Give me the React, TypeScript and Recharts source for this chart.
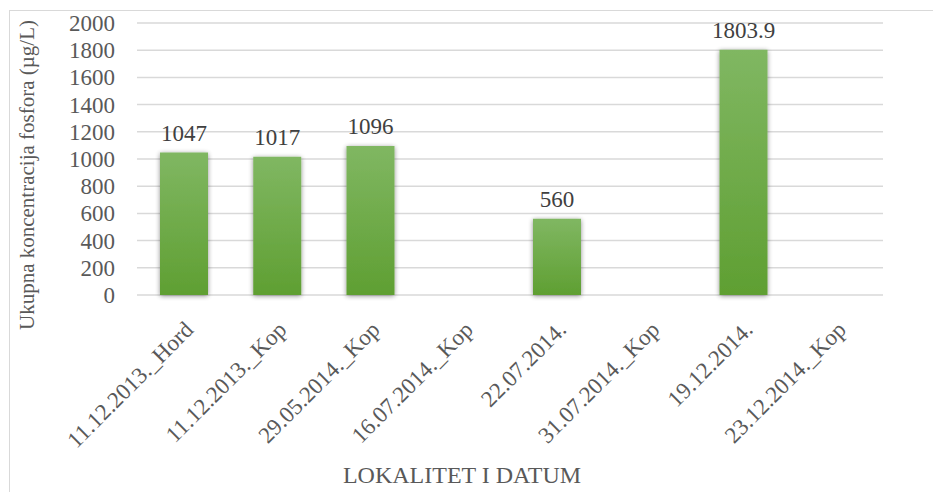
import { BarChart, Bar, XAxis, YAxis, CartesianGrid, LabelList } from 'recharts';

// Ukupna koncentracija fosfora po lokalitetu i datumu
const categories = [
  '11.12.2013._Hord',
  '11.12.2013._Kop',
  '29.05.2014._Kop',
  '16.07.2014._Kop',
  '22.07.2014.',
  '31.07.2014._Kop',
  '19.12.2014.',
  '23.12.2014._Kop',
];
const phosphorus = [1047, 1017, 1096, null, 560, null, 1803.9, null];
const yTicks = [0, 200, 400, 600, 800, 1000, 1200, 1400, 1600, 1800, 2000];

const data = categories.map((name, i) => ({ name, value: phosphorus[i] }));

const FONT = '"Liberation Serif", "Times New Roman", serif';

function AngledTick(props: any) {
  const { x, y, payload } = props;
  const ax = x + 11;
  const ay = y + 36;
  return (
    <text
      x={ax}
      y={ay}
      transform={`rotate(-45 ${ax} ${ay})`}
      textAnchor="end"
      fill="#595959"
      fontSize={23}
      style={{ fontFamily: FONT }}
    >
      {payload.value}
    </text>
  );
}

function ValueTick(props: any) {
  const { x, y, payload } = props;
  return (
    <text
      x={x}
      y={y}
      dy={8}
      textAnchor="end"
      fill="#595959"
      fontSize={23}
      style={{ fontFamily: FONT }}
    >
      {payload.value}
    </text>
  );
}

function BarValue(props: any) {
  const { x, y, width, value } = props;
  if (value == null) return null;
  return (
    <text
      x={x + width / 2}
      y={y - 12}
      textAnchor="middle"
      fill="#404040"
      fontSize={23}
      style={{ fontFamily: FONT }}
    >
      {value}
    </text>
  );
}

export default function App() {
  return (
    <div
      style={{
        position: 'absolute',
        left: 0,
        top: 0,
        width: 933,
        height: 492,
        overflow: 'hidden',
        background: '#fff',
        fontFamily: FONT,
      }}
    >
      <div
        style={{
          position: 'absolute',
          left: 9,
          top: 10,
          width: 1000,
          height: 600,
          border: '1px solid #d9d9d9',
        }}
      />
      <div style={{ position: 'absolute', left: 0, top: 0 }}>
        <BarChart
          width={933}
          height={492}
          data={data}
          margin={{ top: 23, right: 50, left: 0, bottom: 0 }}
        >
          <defs>
            <linearGradient id="barFill" x1="0" y1="0" x2="0" y2="1">
              <stop offset="0%" stopColor="#80b762" />
              <stop offset="100%" stopColor="#5f9f32" />
            </linearGradient>
            <filter id="barShadow" x="-30%" y="-10%" width="160%" height="120%">
              <feGaussianBlur in="SourceAlpha" stdDeviation="2.5" />
              <feOffset dx="0" dy="1" result="blur" />
              <feComponentTransfer>
                <feFuncA type="linear" slope="0.45" />
              </feComponentTransfer>
              <feMerge>
                <feMergeNode />
                <feMergeNode in="SourceGraphic" />
              </feMerge>
            </filter>
          </defs>
          <CartesianGrid vertical={false} stroke="#d9d9d9" strokeWidth={1.5} />
          <XAxis
            dataKey="name"
            height={197}
            axisLine={false}
            tickLine={false}
            tickSize={0}
            tickMargin={0}
            interval={0}
            tick={<AngledTick />}
            label={{
              value: 'LOKALITET I DATUM',
              position: 'insideBottom',
              offset: 9,
              dx: -48,
              fill: '#595959',
              fontSize: 24,
              style: { fontFamily: FONT },
            }}
          />
          <YAxis
            width={137}
            domain={[0, 2000]}
            ticks={yTicks}
            interval={0}
            axisLine={false}
            tickLine={false}
            tickSize={0}
            tickMargin={22}
            tick={<ValueTick />}
            label={{
              value: 'Ukupna koncentracija fosfora (µg/L)',
              angle: -90,
              position: 'insideLeft',
              offset: 27,
              dy: 16,
              fill: '#595959',
              fontSize: 21,
              style: { textAnchor: 'middle', fontFamily: FONT },
            }}
          />
          <Bar
            dataKey="value"
            barSize={48}
            fill="url(#barFill)"
            filter="url(#barShadow)"
            isAnimationActive={false}
          >
            <LabelList dataKey="value" content={<BarValue />} />
          </Bar>
        </BarChart>
      </div>
    </div>
  );
}
